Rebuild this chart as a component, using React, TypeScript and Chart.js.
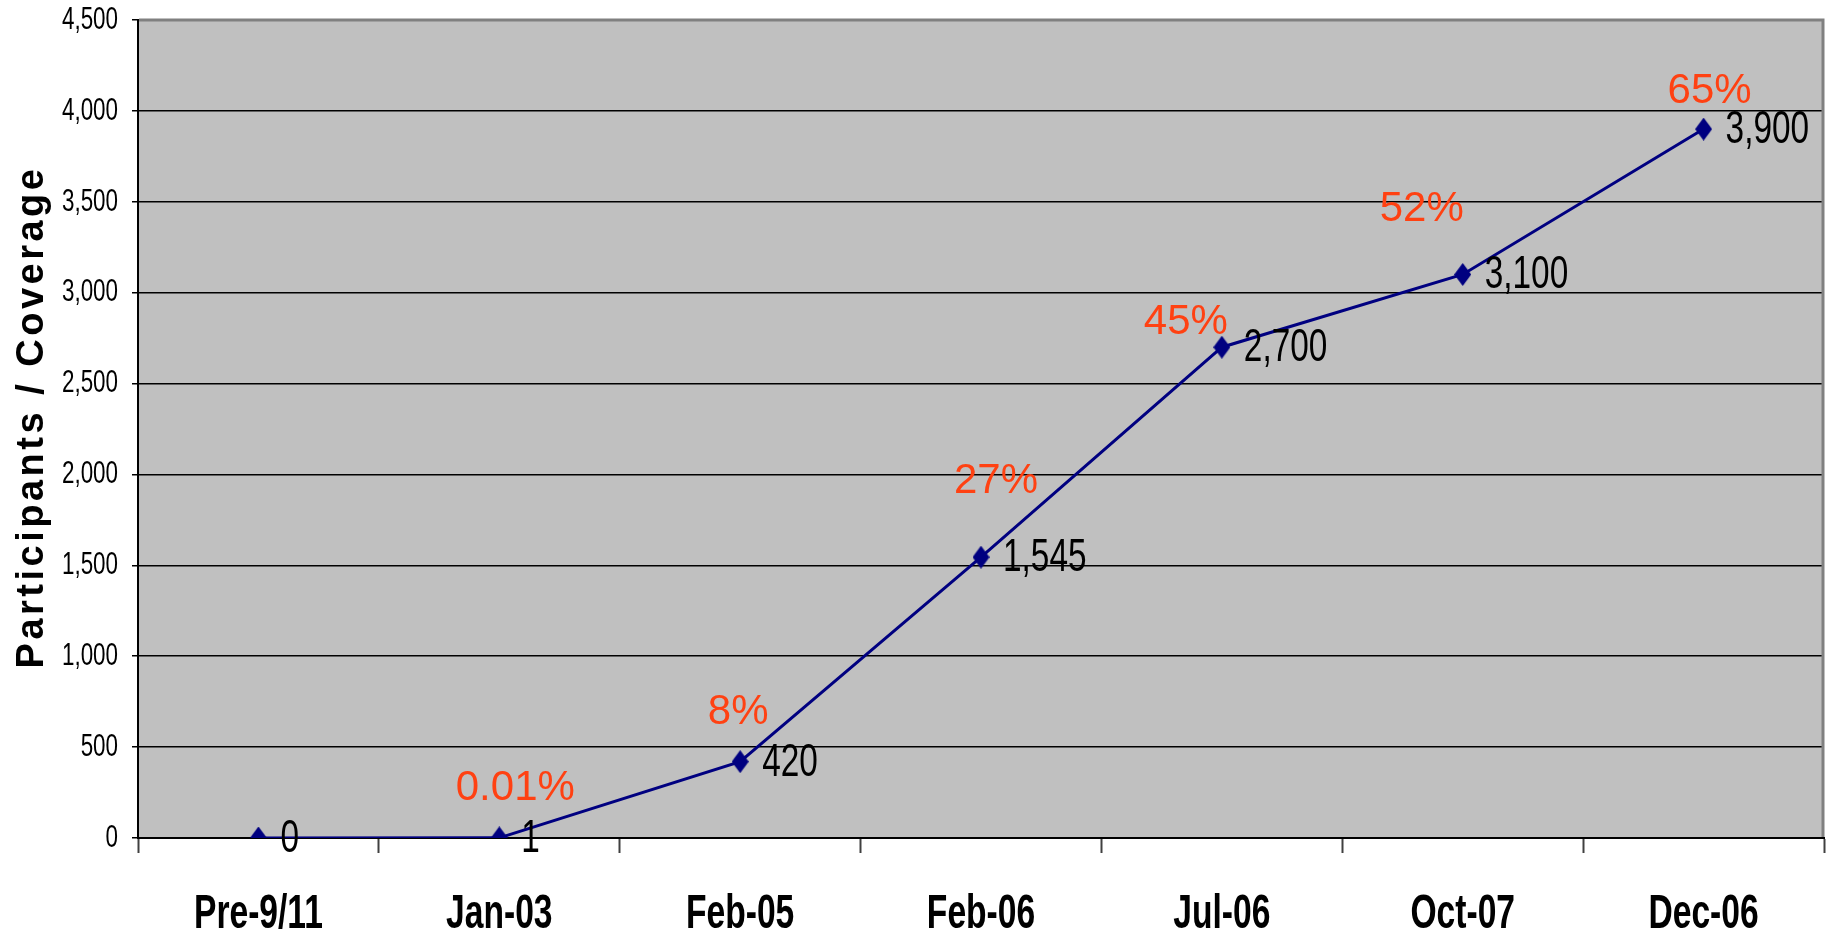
import React, { useEffect, useRef } from "react";
import { Chart, registerables } from "chart.js";

Chart.register(...registerables);

const CATEGORIES = ["Pre-9/11", "Jan-03", "Feb-05", "Feb-06", "Jul-06", "Oct-07", "Dec-06"];
const PARTICIPANTS = [0, 1, 420, 1545, 2700, 3100, 3900];
const COVERAGE_LABELS = ["", "0.01%", "8%", "27%", "45%", "52%", "65%"];
const Y_TICK_MAX = 4500;
const Y_TICK_STEP = 500;
const Y_TITLE = "Participants / Coverage";

// layout offsets of the coverage labels relative to their points (px)
const COVERAGE_OFFSETS: [number, number][] = [
  [0, 0],
  [16, -49],
  [-2, -49],
  [15, -76],
  [-36, -25],
  [-41, -65],
  [6, -38],
];

const SANS = '"Liberation Sans", Arial, sans-serif';

function drawNarrow(
  ctx: CanvasRenderingContext2D,
  text: string,
  x: number,
  y: number,
  font: string,
  align: CanvasTextAlign,
  sx: number
) {
  ctx.save();
  ctx.translate(x, y);
  ctx.scale(sx, 1);
  ctx.font = font;
  ctx.textAlign = align;
  ctx.textBaseline = "middle";
  ctx.fillText(text, 0, 0);
  ctx.restore();
}

function makeDiamond(): HTMLCanvasElement {
  const c = document.createElement("canvas");
  c.width = 17;
  c.height = 23;
  const g = c.getContext("2d")!;
  g.fillStyle = "#000080";
  g.beginPath();
  g.moveTo(8.5, 0);
  g.lineTo(17, 11.5);
  g.lineTo(8.5, 23);
  g.lineTo(0, 11.5);
  g.closePath();
  g.fill();
  return c;
}

export default function App() {
  const ref = useRef<HTMLCanvasElement>(null);

  useEffect(() => {
    if (!ref.current) return;

    const bgPlugin = {
      id: "plotBg",
      beforeDraw(chart: any) {
        const { ctx, chartArea: a } = chart;
        ctx.save();
        ctx.fillStyle = "#C0C0C0";
        ctx.fillRect(a.left, a.top, a.right - a.left, a.bottom - a.top);
        ctx.restore();
      },
      beforeDatasetsDraw(chart: any) {
        const { ctx, chartArea: a } = chart;
        ctx.save();
        ctx.strokeStyle = "#808080";
        ctx.lineWidth = 3;
        ctx.beginPath();
        ctx.moveTo(a.left + 1, a.top);
        ctx.lineTo(a.right - 1, a.top);
        ctx.lineTo(a.right - 1, a.bottom - 1);
        ctx.stroke();
        ctx.restore();
      },
      afterDraw(chart: any) {
        const { ctx, chartArea: a } = chart;
        const xs = chart.scales.x;
        const ys = chart.scales.y;
        ctx.save();
        ctx.fillStyle = "#000";
        ys.ticks.forEach((t: any) => {
          const y = ys.getPixelForValue(t.value);
          drawNarrow(ctx, Number(t.value).toLocaleString("en-US"), a.left - 20, y, `32px ${SANS}`, "right", 0.7);
        });
        CATEGORIES.forEach((c, i) => {
          const x = xs.getPixelForValue(i);
          drawNarrow(ctx, c, x, a.bottom + 77, `bold 48px ${SANS}`, "center", 0.7);
        });
        ctx.font = `bold 38px ${SANS}`;
        (ctx as any).letterSpacing = "3.5px";
        ctx.textAlign = "center";
        ctx.textBaseline = "alphabetic";
        ctx.translate(43, (a.top + a.bottom) / 2 - 12);
        ctx.rotate(-Math.PI / 2);
        ctx.fillText(Y_TITLE, 0, 0);
        ctx.restore();
      },
    };

    const labelPlugin = {
      id: "pointLabels",
      afterDatasetsDraw(chart: any) {
        const { ctx } = chart;
        const meta = chart.getDatasetMeta(0);
        ctx.save();
        meta.data.forEach((pt: any, i: number) => {
          ctx.fillStyle = "#000";
          drawNarrow(ctx, PARTICIPANTS[i].toLocaleString("en-US"), pt.x + 22, pt.y + 1, `47px ${SANS}`, "left", 0.71);
          const pct = COVERAGE_LABELS[i];
          if (pct) {
            const [dx, dy] = COVERAGE_OFFSETS[i];
            ctx.fillStyle = "#FF4112";
            ctx.font = `42px ${SANS}`;
            ctx.textAlign = "center";
            ctx.textBaseline = "middle";
            ctx.fillText(pct, pt.x + dx, pt.y + dy);
          }
        });
        ctx.restore();
      },
    };

    const chart = new Chart(ref.current, {
      type: "line",
      data: {
        labels: CATEGORIES,
        datasets: [
          {
            data: PARTICIPANTS,
            borderColor: "#000080",
            borderWidth: 3,
            pointStyle: makeDiamond() as any,
            pointRadius: 10,
            pointBackgroundColor: "#000080",
            pointBorderColor: "#000080",
            tension: 0,
            fill: false,
          },
        ],
      },
      options: {
        animation: false,
        responsive: true,
        maintainAspectRatio: false,
        layout: { padding: { top: 20, right: 9, left: 0, bottom: 0 } },
        plugins: {
          legend: { display: false },
          tooltip: { enabled: false },
          title: { display: false },
        },
        scales: {
          x: {
            type: "category",
            offset: true,
            grid: {
              offset: true,
              drawOnChartArea: false,
              drawTicks: true,
              tickLength: 15,
              tickColor: "#404040",
              tickWidth: 2,
            },
            border: { color: "#000", width: 2 },
            ticks: { display: false, autoSkip: false },
            afterFit(scale: any) {
              scale.height = 101;
            },
          },
          y: {
            min: 0,
            max: Y_TICK_MAX,
            grid: {
              color: "#000",
              lineWidth: 1.5,
              tickLength: 6,
              tickColor: "#000",
            },
            border: { color: "#000", width: 2 },
            ticks: { display: false, stepSize: Y_TICK_STEP },
            afterFit(scale: any) {
              scale.width = 138;
            },
          },
        },
      },
      plugins: [bgPlugin, labelPlugin],
    });

    return () => chart.destroy();
  }, []);

  return (
    <div style={{ position: "fixed", left: 0, top: 0, width: 1837, height: 939, background: "#fff" }}>
      <canvas ref={ref} />
    </div>
  );
}
